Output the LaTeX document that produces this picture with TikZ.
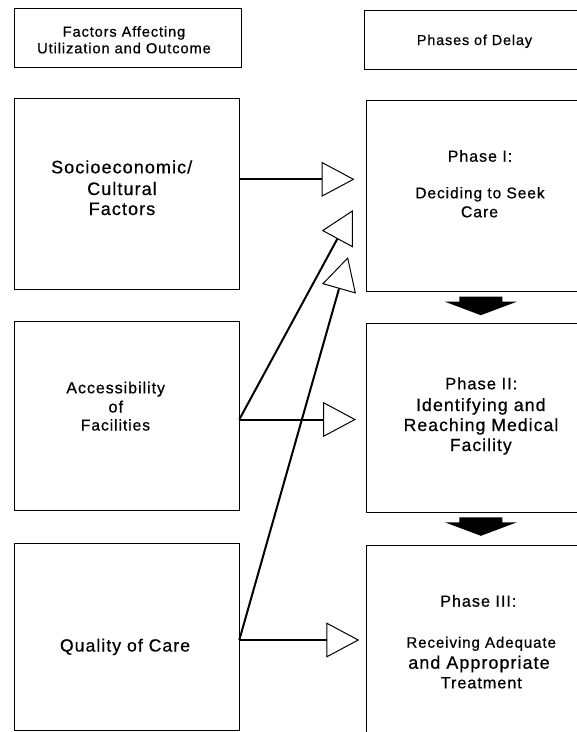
\documentclass[tikz,border=0pt]{standalone}
\usepackage{fontspec}
\setmainfont{Liberation Sans}[LetterSpace=6, FakeBold=0.6]
\usetikzlibrary{arrows.meta,calc}
\newcommand\fsz[1]{\fontsize{#1pt}{#1pt}\selectfont}
\newcommand\downblock[1]{\fill (#1.south) ++(-20.5,5) -- ++(43,0) -- ++(0,5) -- ++(14.5,0) -- ++(-36,13.5) -- ++(-36,-13.5) -- ++(14.5,0) -- cycle;}
\begin{document}
\begin{tikzpicture}[x=1pt,y=-1pt,
  box/.style={draw, line width=0.9pt, inner sep=0pt, outer sep=0pt},
  txt/.style={anchor=base, inner sep=0pt, outer sep=0pt},
  conn/.style={line width=2pt, -{Triangle[fill=white, length=33pt, width=35pt, line width=1pt]}}]
\useasboundingbox (0,0) rectangle (577,732);
\fill[white] (0,0) rectangle (577,732);
\clip (0,0) rectangle (577,732);

% header boxes
\node[box, minimum width=227pt, minimum height=59.4pt] (h1) at (128.2,38) {};
\node[box, minimum width=221pt, minimum height=59pt] (h2) at (474.5,39.5) {};
\node[txt] (h1a) at (124,36.7) {\fsz{14.6}Factors Affecting};
\node[txt] (h1b) at (124,53.3) {\fsz{14.7}Utilization and Outcome};
\node[txt] (h2t) at (474.5,45) {\fsz{14.4}Phases of Delay};

% left boxes
\node[box, minimum width=224.6pt, minimum height=191pt] (socio) at (127,193.8) {};
\node[box, minimum width=224.6pt, minimum height=189.7pt] (access) at (127,415.85) {};
\node[box, minimum width=224.6pt, minimum height=187.4pt] (quality) at (127,637) {};

\node[txt] (s1) at (121.7,173.3) {\fsz{18}Socioeconomic/};
\node[txt] (s2) at (122,195) {\fsz{18}Cultural};
\node[txt] (s3) at (122,215) {\fsz{18}Factors};

\node[txt] (a1) at (115.7,393.3) {\fsz{16}Accessibility};
\node[txt] (a2) at (115.8,412.5) {\fsz{16.5}of};
\node[txt] (a3) at (115.5,430.5) {\fsz{15.6}Facilities};

\node[txt] (q1) at (125,651.5) {\fsz{17.6}Quality of Care};

% right boxes
\node[box, minimum width=226.3pt, minimum height=191.7pt] (p1) at (479.85,195.85) {};
\node[box, minimum width=226.3pt, minimum height=189.3pt] (p2) at (479.85,417.65) {};
\node[box, minimum width=226.3pt, minimum height=200pt] (p3) at (479.85,645.7) {};

\node[txt] (p1a) at (480,161.7) {\fsz{16}Phase I:};
\node[txt] (p1b) at (480,198.3) {\fsz{15.5}Deciding to Seek};
\node[txt] (p1c) at (479.5,217.3) {\fsz{15.8}Care};

\node[txt] (p2a) at (481.3,389.3) {\fsz{16.5}Phase II:};
\node[txt] (p2b) at (480.8,411) {\fsz{17.8}Identifying and};
\node[txt] (p2c) at (481,431) {\fsz{17.6}Reaching Medical};
\node[txt] (p2d) at (480.8,451) {\fsz{17.5}Facility};

\node[txt] (p3a) at (478.3,606.7) {\fsz{16.2}Phase III:};
\node[txt] (p3b) at (481.2,647.7) {\fsz{15.1}Receiving Adequate};
\node[txt] (p3c) at (479,668.7) {\fsz{17.9}and Appropriate};
\node[txt] (p3d) at (481.3,688.3) {\fsz{16.2}Treatment};

% arrow tips (free ends)
\coordinate (t1) at (354.5,179.3);
\coordinate (t2) at (356,419.5);
\coordinate (t3) at (359.3,640);
\coordinate (t4) at (353,210);
\coordinate (t5) at (348,257);

% connectors
\draw[conn] (socio.east |- t1) -- (t1);
\draw[conn] (access.east |- t2) -- (t2);
\draw[conn] (access.east |- t2) -- (t4);
\draw[conn] (quality.east |- t3) -- (t3);
\draw[conn] (quality.east |- t3) -- (t5);

% block arrows between phases
\downblock{p1}
\downblock{p2}
\end{tikzpicture}
\end{document}
